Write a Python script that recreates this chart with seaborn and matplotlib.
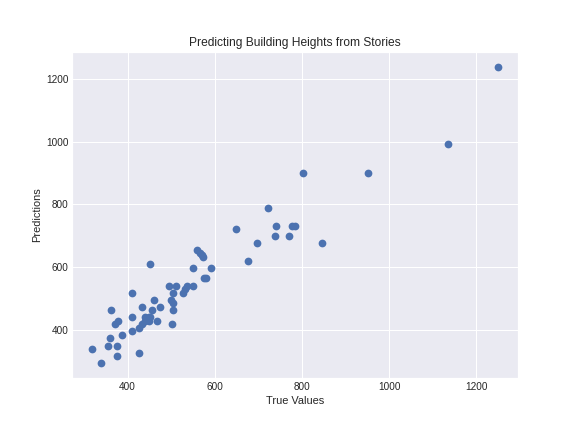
import numpy as np
import pandas as pd
import matplotlib
matplotlib.use('Agg')
import matplotlib.pyplot as plt
import seaborn as sns

# true heights vs model predictions
true_vals = [1250, 1135, 952, 803, 722, 649, 741, 738, 771, 778, 785, 845, 696, 677,
             560, 567, 570, 574, 452, 551, 592, 576, 579, 494, 512, 536, 551, 531,
             528, 505, 411, 460, 500, 505, 475, 434, 363, 455, 505, 409, 451, 440,
             448, 379, 372, 468, 448, 440, 503, 434, 427, 411, 387, 360, 356, 375,
             319, 427, 375, 340]
predictions = [1240, 994, 901, 901, 789, 722, 732, 700, 700, 732, 732, 677, 677, 620,
               656, 646, 639, 632, 610, 597, 597, 565, 565, 540, 540, 540, 540, 531,
               517, 517, 517, 495, 495, 486, 472, 472, 463, 463, 463, 440, 440, 440,
               440, 428, 418, 428, 428, 428, 418, 418, 405, 396, 383, 373, 348, 348,
               338, 325, 316, 293]

df = pd.DataFrame({'true': true_vals, 'pred': predictions})

sns.set_theme(style='darkgrid')
plt.rcParams['font.family'] = ['Liberation Sans', 'DejaVu Sans']
plt.rcParams['xtick.labelsize'] = 10
plt.rcParams['ytick.labelsize'] = 10
plt.rcParams['axes.labelsize'] = 11
plt.rcParams['axes.titlesize'] = 12

fig = plt.figure(figsize=(8, 6), dpi=72)
fig.subplots_adjust(left=0.125, right=0.9, bottom=0.125, top=0.88)
ax = sns.scatterplot(x='true', y='pred', data=df, color='#4C72B0', s=60, linewidth=0)
ax.set_xlabel('True Values')
ax.set_ylabel('Predictions')
ax.set_title('Predicting Building Heights from Stories')
ax.set_xticks([400, 600, 800, 1000, 1200])
ax.set_yticks([400, 600, 800, 1000, 1200])
ax.tick_params(length=0)
plt.savefig('out.png', dpi=72)
